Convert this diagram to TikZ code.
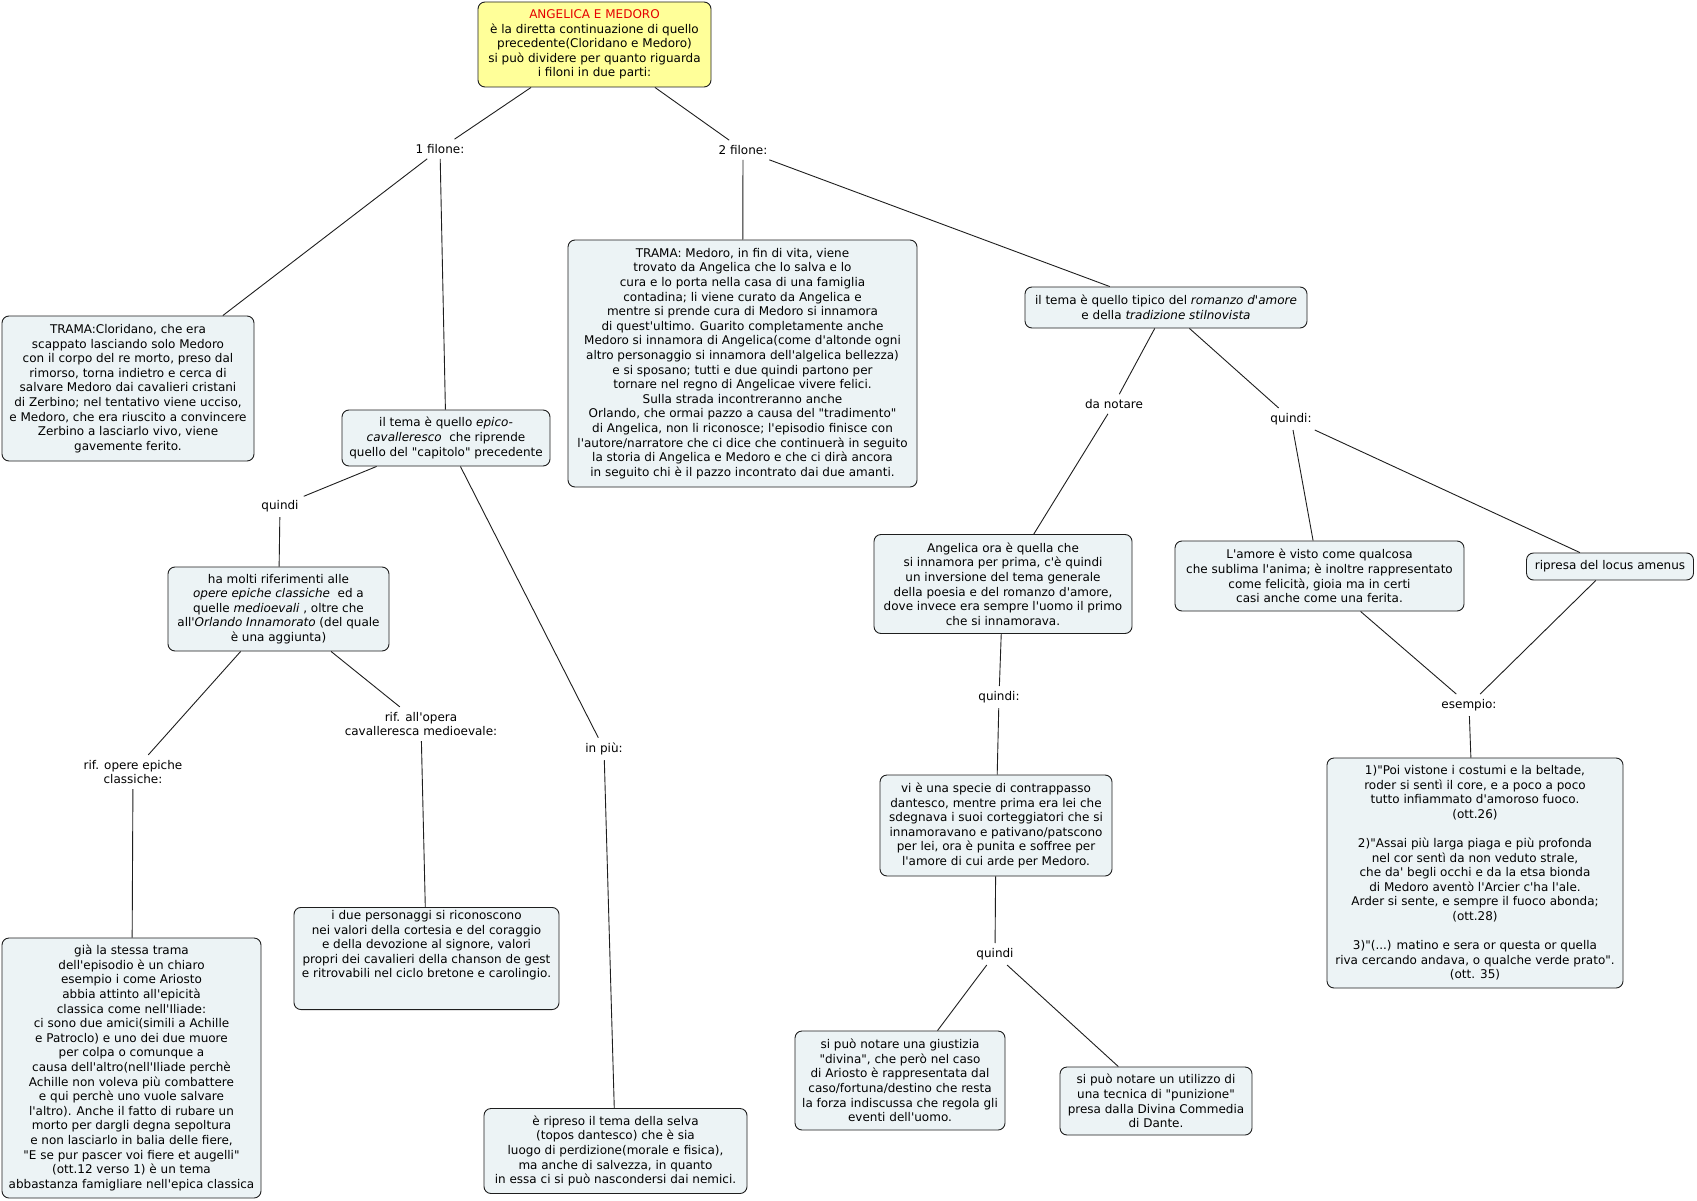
\documentclass[tikz,border=0pt]{standalone}
\usepackage{fontspec}
\setmainfont{DejaVu Sans}[Ligatures=TeXOff]
\definecolor{boxfill}{RGB}{236,243,245}
\definecolor{rootfill}{RGB}{255,255,153}
\definecolor{titlered}{RGB}{230,0,0}
\definecolor{edge}{RGB}{30,30,30}
\newcommand\fs{\fontsize{12}{14.6}\selectfont}
\begin{document}
\begin{tikzpicture}[x=1pt,y=-1pt,
  box/.style={draw=edge, line width=0.9pt, rounded corners=7pt, fill=boxfill, align=center, inner sep=3pt, font=\fs},
  rootbox/.style={box, fill=rootfill},
  lbl/.style={align=center, inner sep=5pt, font=\fs},
  conn/.style={draw=edge, line width=0.9pt}]
\useasboundingbox[fill=white] (0,0) rectangle (1697,1201);

\node[rootbox, minimum width=233pt, minimum height=85pt] (root) at (594.5,44.5) {\textcolor{titlered}{ANGELICA E MEDORO}\\è la diretta continuazione di quello\\precedente(Cloridano e Medoro)\\si può dividere per quanto riguarda\\i filoni in due parti:};

\node[lbl] (f1) at (440,149) {1 filone:};
\node[lbl] (f2) at (743,150) {2 filone:};

\node[box, minimum width=252pt, minimum height=145pt] (trama1) at (128,388.5) {TRAMA:Cloridano, che era\\scappato lasciando solo Medoro\\con il corpo del re morto, preso dal\\rimorso, torna indietro e cerca di\\salvare Medoro dai cavalieri cristani\\di Zerbino; nel tentativo viene ucciso,\\e Medoro, che era riuscito a convincere\\Zerbino a lasciarlo vivo, viene\\gavemente ferito.};

\node[box, minimum width=208pt, minimum height=56pt] (epico) at (446,438) {il tema è quello \textit{epico-}\\\textit{cavalleresco}\ \ che riprende\\quello del "capitolo" precedente};

\node[lbl] (q1) at (280,506) {quindi};

\node[box, minimum width=221pt, minimum height=84pt] (molti) at (278.5,609) {ha molti riferimenti alle\\\textit{opere epiche classiche}\ \ ed a\\quelle \textit{medioevali} , oltre che\\all'\textit{Orlando Innamorato} (del quale\\è una aggiunta)};

\node[lbl] (rifc) at (133,772) {rif. opere epiche\\classiche:};
\node[lbl] (rifm) at (421,724) {rif. all'opera\\cavalleresca medioevale:};

\node[box, minimum width=259pt, minimum height=260pt] (gia) at (131.5,1068) {già la stessa trama\\dell'episodio è un chiaro\\esempio i come Ariosto\\abbia attinto all'epicità\\classica come nell'Iliade:\\ci sono due amici(simili a Achille\\e Patroclo) e uno dei due muore\\per colpa o comunque a\\causa dell'altro(nell'Iliade perchè\\Achille non voleva più combattere\\e qui perchè uno vuole salvare\\l'altro). Anche il fatto di rubare un\\morto per dargli degna sepoltura\\e non lasciarlo in balia delle fiere,\\"E se pur pascer voi fiere et augelli"\\(ott.12 verso 1) è un tema\\abbastanza famigliare nell'epica classica};

\node[box, minimum width=265pt, minimum height=100pt] (due) at (426.5,958.5) {i due personaggi si riconoscono\\nei valori della cortesia e del coraggio\\e della devozione al signore, valori\\propri dei cavalieri della chanson de gest\\e ritrovabili nel ciclo bretone e carolingio.\\[14pt]};

\node[lbl] (inpiu) at (604,749) {in più:};

\node[box, minimum width=263pt, minimum height=85pt] (selva) at (615.5,1151) {è ripreso il tema della selva\\(topos dantesco) che è sia\\luogo di perdizione(morale e fisica),\\ma anche di salvezza, in quanto\\in essa ci si può nascondersi dai nemici.};

\node[box, minimum width=349pt, minimum height=247pt] (trama2) at (742.5,363.5) {TRAMA: Medoro, in fin di vita, viene\\trovato da Angelica che lo salva e lo\\cura e lo porta nella casa di una famiglia\\contadina; li viene curato da Angelica e\\mentre si prende cura di Medoro si innamora\\di quest'ultimo. Guarito completamente anche\\Medoro si innamora di Angelica(come d'altonde ogni\\altro personaggio si innamora dell'algelica bellezza)\\e si sposano; tutti e due quindi partono per\\tornare nel regno di Angelicae vivere felici.\\Sulla strada incontreranno anche\\Orlando, che ormai pazzo a causa del "tradimento"\\di Angelica, non li riconosce; l'episodio finisce con\\l'autore/narratore che ci dice che continuerà in seguito\\la storia di Angelica e Medoro e che ci dirà ancora\\in seguito chi è il pazzo incontrato dai due amanti.};

\node[box, minimum width=282pt, minimum height=41pt] (romanzo) at (1166,307.5) {il tema è quello tipico del \textit{romanzo d'amore}\\e della \textit{tradizione stilnovista}};

\node[lbl] (danotare) at (1114,404) {da notare};
\node[lbl] (q2) at (1291,419) {quindi:};

\node[box, minimum width=258pt, minimum height=99pt] (angelica) at (1003,584) {Angelica ora è quella che\\si innamora per prima, c'è quindi\\un inversione del tema generale\\della poesia e del romanzo d'amore,\\dove invece era sempre l'uomo il primo\\che si innamorava.};

\node[lbl] (q3) at (999,697) {quindi:};

\node[box, minimum width=232pt, minimum height=101pt] (contra) at (996,825.5) {vi è una specie di contrappasso\\dantesco, mentre prima era lei che\\sdegnava i suoi corteggiatori che si\\innamoravano e pativano/patscono\\per lei, ora è punita e soffree per\\l'amore di cui arde per Medoro.};

\node[lbl] (q4) at (995,954) {quindi};

\node[box, minimum width=210pt, minimum height=99pt] (giust) at (900,1080.5) {si può notare una giustizia\\"divina", che però nel caso\\di Ariosto è rappresentata dal\\caso/fortuna/destino che resta\\la forza indiscussa che regola gli\\eventi dell'uomo.};

\node[box, minimum width=192pt, minimum height=68pt] (utilizzo) at (1156,1101) {si può notare un utilizzo di\\una tecnica di "punizione"\\presa dalla Divina Commedia\\di Dante.};

\node[box, minimum width=289pt, minimum height=70pt] (amore) at (1319.5,576) {L'amore è visto come qualcosa\\che sublima l'anima; è inoltre rappresentato\\come felicità, gioia ma in certi\\casi anche come una ferita.};

\node[box, minimum width=167pt, minimum height=27pt] (ripresa) at (1610,566.5) {ripresa del locus amenus};

\node[lbl] (esempio) at (1469,705) {esempio:};

\node[box, minimum width=296pt, minimum height=230pt] (quotes) at (1475,873) {1)"Poi vistone i costumi e la beltade,\\roder si sentì il core, e a poco a poco\\tutto infiammato d'amoroso fuoco.\\(ott.26)\\[14.6pt]2)"Assai più larga piaga e più profonda\\nel cor sentì da non veduto strale,\\che da' begli occhi e da la etsa bionda\\di Medoro aventò l'Arcier c'ha l'ale.\\Arder si sente, e sempre il fuoco abonda;\\(ott.28)\\[14.6pt]3)"(...) matino e sera or questa or quella\\riva cercando andava, o qualche verde prato".\\(ott. 35)};

\draw[conn] (root) -- (f1);
\draw[conn] (root) -- (f2);
\draw[conn] (f1) -- (trama1);
\draw[conn] (f1) -- (epico);
\draw[conn] (f2) -- (trama2);
\draw[conn] (f2) -- (romanzo);
\draw[conn] (epico) -- (q1);
\draw[conn] (q1) -- (molti);
\draw[conn] (epico) -- (inpiu);
\draw[conn] (inpiu) -- (selva);
\draw[conn] (molti) -- (rifc);
\draw[conn] (rifc) -- (gia);
\draw[conn] (molti) -- (rifm);
\draw[conn] (rifm) -- (due);
\draw[conn] (romanzo) -- (danotare);
\draw[conn] (danotare) -- (angelica);
\draw[conn] (romanzo) -- (q2);
\draw[conn] (q2) -- (amore);
\draw[conn] (q2) -- (ripresa);
\draw[conn] (amore) -- (esempio);
\draw[conn] (ripresa) -- (esempio);
\draw[conn] (esempio) -- (quotes);
\draw[conn] (angelica) -- (q3);
\draw[conn] (q3) -- (contra);
\draw[conn] (contra) -- (q4);
\draw[conn] (q4) -- (giust);
\draw[conn] (q4) -- (utilizzo);
\end{tikzpicture}
\end{document}
